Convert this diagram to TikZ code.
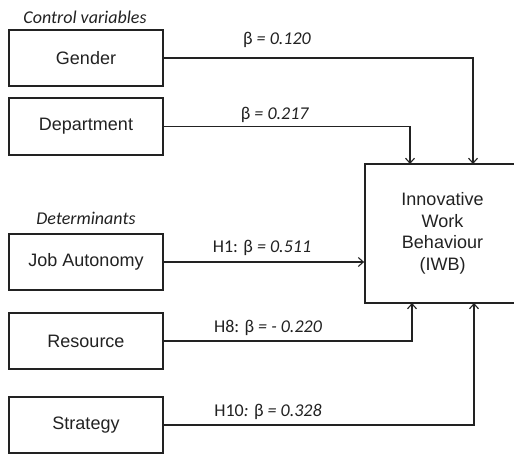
\documentclass[tikz,border=0pt]{standalone}
\usepackage{fontspec}
\setmainfont{Liberation Sans}
\newfontfamily\calib{Carlito}
\usetikzlibrary{arrows.meta}
\definecolor{ink}{HTML}{222222}
\tikzset{
  box/.style={draw=ink, line width=1.8pt, minimum width=154pt, minimum height=56pt, inner sep=0pt, font=\fontsize{18}{21.5}\selectfont, text=ink, align=center},
  conn/.style={draw=ink, line width=1.2pt, -{Straight Barb[length=5pt,width=9pt,line width=1.1pt]}},
  lab/.style={font=\calib\fontsize{18}{21}\selectfont, text=ink, inner sep=0pt},
  head/.style={font=\calib\itshape\fontsize{18}{21}\selectfont, text=ink, inner sep=0pt}
}
\begin{document}
\begin{tikzpicture}[x=1pt,y=-1pt]
\useasboundingbox (0,0) rectangle (514,453);
\clip (0,0) rectangle (514,453);
\fill[white] (0,0) rectangle (514,453);
\node[head] (hctrl) at (85,17) {Control variables};
\node[head] (hdet) at (86,218) {Determinants};
\node[box] (gender) at (86,58) {Gender};
\node[box, minimum height=57pt] (dept) at (86,126.5) {Department};
\node[box] (job) at (86,262) {Job Autonomy};
\node[box] (res) at (86,341) {Resource};
\node[box] (strat) at (86,425) {Strategy};
\node[box, minimum width=155pt, minimum height=139pt] (iwb) at (442.5,233.5) {Innovative\\Work\\Behaviour\\(IWB)};
\coordinate (t1) at (410,164);
\coordinate (t2) at (473,164);
\coordinate (b1) at (412,303);
\coordinate (b2) at (474,303);
\draw[conn] (gender.east) -| (t2);
\draw[conn] (dept.east) -| (t1);
\draw[conn] (job.east) -- (job.east -| iwb.west);
\draw[conn] (res.east) -| (b1);
\draw[conn] (strat.east) -| (b2);
\node[lab] (l1) at (277,40) {β \textit{= 0.120}};
\node[lab] (l2) at (275,115) {β \textit{= 0.217}};
\node[lab] (l3) at (262,248) {H1: β \textit{= 0.511}};
\node[lab] (l4) at (268,328) {H8: β \textit{= - 0.220}};
\node[lab] (l5) at (268,412) {H10\textit{:} β \textit{= 0.328}};
\end{tikzpicture}
\end{document}
